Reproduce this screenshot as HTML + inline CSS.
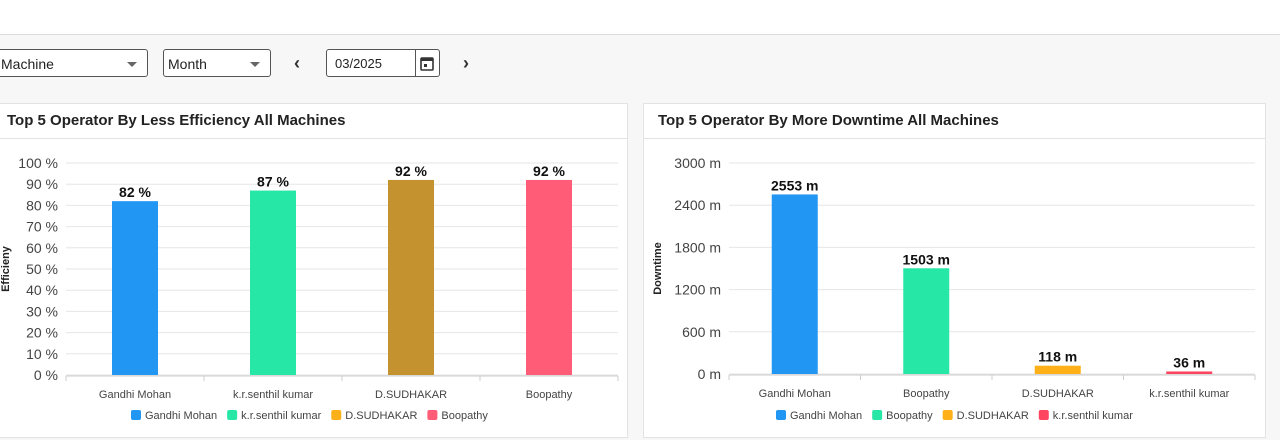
<!DOCTYPE html>
<html><head><meta charset="utf-8"><style>
body{margin:0;width:1280px;height:440px;background:#f7f7f7;font-family:"Liberation Sans",sans-serif;overflow:hidden;position:relative}
.hdr{position:absolute;left:0;top:0;width:1280px;height:34px;background:#fff;border-bottom:1px solid #ddd}
.sel{position:absolute;top:49px;height:28px;border:1px solid #555;border-radius:3px;background:#fff;box-sizing:border-box;font-size:14px;line-height:28px;padding-left:4px;color:#222}
.sel .ar{position:absolute;right:10px;top:12px;width:0;height:0;border-left:5px solid transparent;border-right:5px solid transparent;border-top:5px solid #666}
.card{position:absolute;top:103px;height:335px;background:#fff;border:1px solid #e3e3e3;box-sizing:border-box}
.title{position:absolute;left:0;top:0;right:0;height:34px;border-bottom:1px solid #e3e3e3;font-size:15px;font-weight:bold;line-height:34px;padding-left:6px;color:#222}
.nav{position:absolute;top:53px;font-size:18px;font-weight:bold;color:#333}
</style></head><body>
<div class="hdr"></div>
<div class="sel" style="left:-4px;width:152px">Machine<span class="ar"></span></div>
<div class="sel" style="left:163px;width:108px">Month<span class="ar"></span></div>
<div class="nav" style="left:294px">‹</div>
<div class="sel" style="left:326px;width:114px;font-size:13px;padding-left:8px">03/2025
<span style="position:absolute;left:88px;top:0;width:1px;height:26px;background:#555"></span>
<svg style="position:absolute;left:93px;top:6px" width="14" height="15"><rect x="1" y="2" width="12" height="12" rx="1" fill="none" stroke="#333" stroke-width="1.6"/><rect x="1" y="2" width="12" height="3" fill="#333"/><rect x="4" y="8" width="3" height="3" fill="#333"/></svg></div>
<div class="nav" style="left:463px">›</div>

<div class="card" style="left:-2px;width:630px"><div class="title" style="padding-left:8px">Top 5 Operator By Less Efficiency All Machines</div></div>
<div class="card" style="left:643px;width:623px"><div class="title" style="padding-left:14px">Top 5 Operator By More Downtime All Machines</div></div>
<svg id="s" width="1280" height="440" style="position:absolute;left:0;top:0" font-family="Liberation Sans, sans-serif"></svg>
<script>
const effCats=["Gandhi Mohan","k.r.senthil kumar","D.SUDHAKAR","Boopathy"];
const effVals=[82,87,92,92];
const effTicks=[0,10,20,30,40,50,60,70,80,90,100];
const effColors=["#2196F3","#26E7A6","#C4922F","#FF5C77"];
const effLegend=["#2196F3","#26E7A6","#FEB019","#FF5C77"];
const dtCats=["Gandhi Mohan","Boopathy","D.SUDHAKAR","k.r.senthil kumar"];
const dtVals=[2553,1503,118,36];
const dtTicks=[0,600,1200,1800,2400,3000];
const dtColors=["#2196F3","#26E7A6","#FEB019","#FF4560"];
const svg=document.getElementById('s');
function el(t,a,txt){const e=document.createElementNS('http://www.w3.org/2000/svg',t);for(const k in a)e.setAttribute(k,a[k]);if(txt!=null)e.textContent=txt;svg.appendChild(e);return e;}
function chart(o){
 const y=v=>o.y0-(v/o.max)*(o.y0-o.y1);
 const bw=(o.x1-o.x0)/o.cats.length;
 o.ticks.forEach(t=>{
  const g=el('line',{x1:o.x0,x2:o.x1,y1:y(t),y2:y(t),stroke:'#e6e6e6'});
  
  const l=el('text',{x:o.x0-8,y:y(t)+5,'text-anchor':'end','font-size':14,fill:'#444'},t+o.unit);
  
 });
 el('line',{x1:o.x0,x2:o.x1,y1:o.y0+1,y2:o.y0+1,stroke:'#ccc'});
 o.cats.forEach((c,i)=>{
  const cx=o.x0+bw*(i+0.5);
  el('line',{x1:o.x0+bw*i,x2:o.x0+bw*i,y1:o.y0+1,y2:o.y0+6,stroke:'#ccc'});
  const b=el('rect',{x:cx-23,y:y(o.vals[i]),width:46,height:o.y0-y(o.vals[i]),fill:o.colors[i]});
  
  
  const v=el('text',{x:cx,y:y(o.vals[i])-4,'text-anchor':'middle','font-size':14,'font-weight':'bold',fill:'#111'},o.vals[i]+o.vunit);
  
  const xl=el('text',{x:cx,y:o.y0+23,'text-anchor':'middle','font-size':11,fill:'#444'},c);
  
 });
 el('line',{x1:o.x1,x2:o.x1,y1:o.y0+1,y2:o.y0+6,stroke:'#ccc'});
 const yt=el('text',{x:0,y:0,transform:`translate(${o.tx},${(o.y0+o.y1)/2}) rotate(-90)`,'text-anchor':'middle','font-size':11,'font-weight':'bold',fill:'#222'},o.title);
 
 let lx=o.lx;
 o.cats.forEach((c,i)=>{
  const r=el('rect',{x:lx,y:410,width:10,height:10,rx:2,fill:o.lcolors[i]});
  
  const t=el('text',{x:lx+14,y:419,'font-size':11,fill:'#444'},c);
  
  lx+=14+t.getComputedTextLength()+10;
 });
}
chart({cats:effCats,vals:effVals,ticks:effTicks,colors:effColors,lcolors:effLegend,max:100,x0:66,x1:618,y0:375,y1:163,unit:' %',vunit:' %',title:'Efficieny',tx:9,lx:131});
chart({cats:dtCats,vals:dtVals,ticks:dtTicks,colors:dtColors,lcolors:dtColors,max:3000,x0:729,x1:1255,y0:374,y1:163,unit:' m',vunit:' m',title:'Downtime',tx:661,lx:776});
</script>
</body></html>
